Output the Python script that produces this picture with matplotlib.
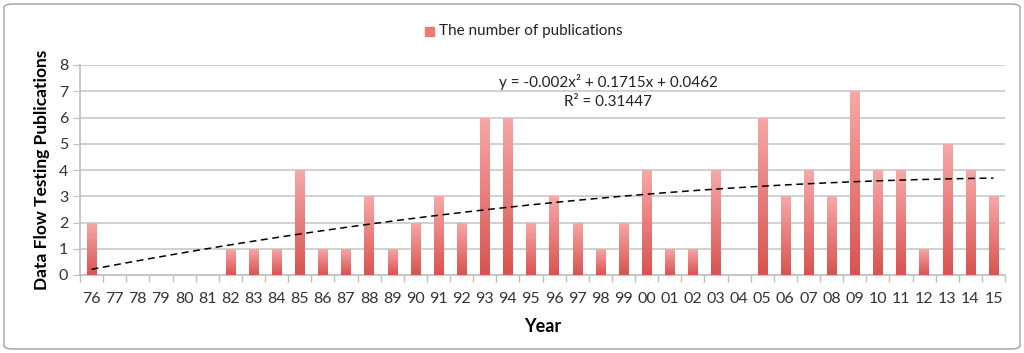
import matplotlib
matplotlib.use("Agg")
import matplotlib.pyplot as plt
import numpy as np
from matplotlib.colors import LinearSegmentedColormap
from matplotlib.patches import FancyBboxPatch, Rectangle

plt.rcParams["font.family"] = ["Lato", "DejaVu Sans"]

years = ["76", "77", "78", "79", "80", "81", "82", "83", "84", "85",
         "86", "87", "88", "89", "90", "91", "92", "93", "94", "95",
         "96", "97", "98", "99", "00", "01", "02", "03", "04", "05",
         "06", "07", "08", "09", "10", "11", "12", "13", "14", "15"]
counts = [2, 0, 0, 0, 0, 0, 1, 1, 1, 4,
          1, 1, 3, 1, 2, 3, 2, 6, 6, 2,
          3, 2, 1, 2, 4, 1, 1, 4, 0, 6,
          3, 4, 3, 7, 4, 4, 1, 5, 4, 3]
equation = "y = -0.002x\u00b2 + 0.1715x + 0.0462"
r_squared = "R\u00b2 = 0.31447"

fig = plt.figure(figsize=(10.24, 3.53), dpi=100)
ax = fig.add_axes([80 / 1024, 1 - 275 / 353, 925 / 1024, 210 / 353])

x = np.arange(len(years))
bar_w = 0.4
cmap = LinearSegmentedColormap.from_list("redgrad", ["#d9534f", "#f7a8a8"])
grad = np.linspace(0, 1, 256).reshape(-1, 1)

for xi, c in zip(x, counts):
    if c <= 0:
        continue
    im = ax.imshow(grad, cmap=cmap, origin="lower", aspect="auto",
                   extent=(xi - bar_w / 2, xi + bar_w / 2, 0, c), zorder=3)
    clip = Rectangle((xi - bar_w / 2, 0), bar_w, c, transform=ax.transData)
    im.set_clip_path(clip)

# quadratic trendline, fitted to the counts like the spreadsheet did
coef = np.polyfit(x + 1, counts, 2)
xt = np.linspace(0, len(years) - 1, 200)
ax.plot(xt, np.polyval(coef, xt + 1), color="black", lw=1.1,
        linestyle=(0, (4.5, 3)), zorder=4)

ax.set_xlim(-0.5, len(years) - 0.5)
ax.set_ylim(0, 8)
ax.set_yticks(range(0, 9))
ax.set_xticks(x)
ax.set_xticklabels(years)
ax.set_xticks(np.arange(-0.5, len(years), 1), minor=True)
ax.tick_params(axis="x", which="major", length=0, labelsize=11.5, pad=12,
               colors="#333333")
ax.tick_params(axis="x", which="minor", length=5, color="#bfbfbf", width=1)
ax.tick_params(axis="y", length=5, color="#bfbfbf", labelsize=11.5,
               colors="#333333", direction="out")
ax.grid(axis="y", color="#c8c8c8", lw=1.2, zorder=0)
ax.set_axisbelow(True)
for side in ["top", "right"]:
    ax.spines[side].set_visible(False)
for side in ["left", "bottom"]:
    ax.spines[side].set_color("#bfbfbf")
    ax.spines[side].set_linewidth(1.2)

ax.set_xlabel("Year", fontsize=13, fontweight="bold", labelpad=9)
ax.set_ylabel("Data Flow Testing Publications", fontsize=12.5,
              fontweight="bold", labelpad=6)

ax.text(0.571, 0.919, equation, transform=ax.transAxes, ha="center",
        va="center", fontsize=11, color="#222222")
ax.text(0.571, 0.824, r_squared, transform=ax.transAxes, ha="center",
        va="center", fontsize=11, color="#222222")

# legend
fig.patches.append(Rectangle((425 / 1024, 1 - 36 / 353), 9 / 1024, 9 / 353,
                             transform=fig.transFigure, color="#ec7a78"))
fig.text(439 / 1024, 1 - 31 / 353, "The number of publications",
         fontsize=11, va="center", ha="left", color="#222222")

# chart border
fig.patches.append(FancyBboxPatch((4 / 1024, 4 / 353), 1016 / 1024, 345 / 353,
                                  boxstyle="round,pad=0,rounding_size=0.01",
                                  transform=fig.transFigure, fill=False,
                                  ec="#a0a0a0", lw=1))

fig.savefig("out.png", dpi=100)
